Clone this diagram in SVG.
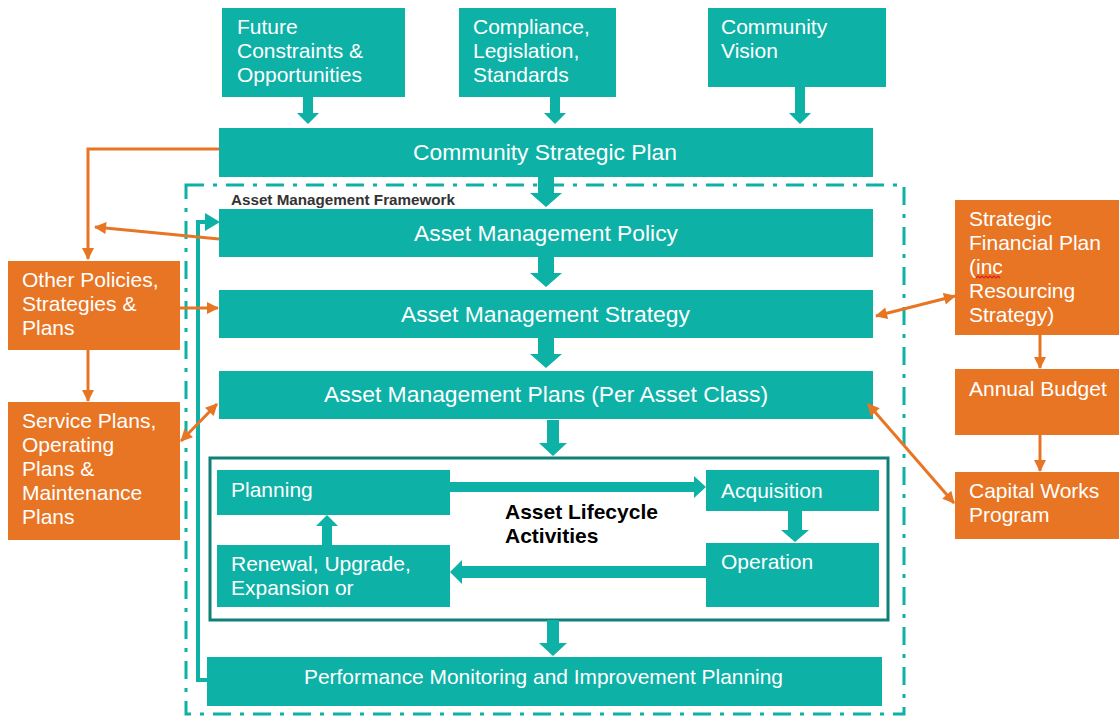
<svg xmlns="http://www.w3.org/2000/svg" width="1119" height="717" viewBox="0 0 1119 717">
<defs>
<style>
.t{fill:#0db1a6}
.o{fill:#e87524}
.w{fill:#fff;font-family:"Liberation Sans",Arial,sans-serif;font-size:21px}
.c{text-anchor:middle}
.h{font-size:22px}
.ol{stroke:#e87524;stroke-width:3;fill:none}
.tl{stroke:#0db1a6;stroke-width:4;fill:none}
</style>
<marker id="ah" viewBox="0 0 12 12" refX="11" refY="6" markerWidth="13" markerHeight="12" markerUnits="userSpaceOnUse" orient="auto-start-reverse">
<path d="M0,0 L12,6 L0,12 z" fill="#e87524"/>
</marker>
</defs>
<rect width="1119" height="717" fill="#fff"/>

<!-- framework border -->
<rect x="186" y="185" width="718" height="529" fill="none" stroke="#0db1a6" stroke-width="3" stroke-dasharray="18 9 4 9"/>
<text x="231" y="205" font-family="Liberation Sans,Arial,sans-serif" font-size="14.5" font-weight="bold" fill="#333" textLength="224" lengthAdjust="spacingAndGlyphs">Asset Management  Framework</text>

<g id="future"><rect class="t" x="222" y="8" width="183" height="89"/><text class="w" x="237" y="34">Future</text><text class="w" x="237" y="58">Constraints &amp;</text><text class="w" x="237" y="82">Opportunities</text></g>
<g id="compliance"><rect class="t" x="459" y="8" width="157" height="89"/><text class="w" x="473" y="34">Compliance,</text><text class="w" x="473" y="58">Legislation,</text><text class="w" x="473" y="82">Standards</text></g>
<g id="vision"><rect class="t" x="708" y="8" width="178" height="79"/><text class="w" x="721" y="34">Community</text><text class="w" x="721" y="58">Vision</text></g>
<g id="csp"><rect class="t" x="219" y="128" width="654" height="49"/><text class="w h" x="413" y="160" textLength="264" lengthAdjust="spacingAndGlyphs">Community Strategic Plan</text></g>
<g id="policy"><rect class="t" x="219" y="209" width="654" height="48"/><text class="w h" x="414" y="241" textLength="264" lengthAdjust="spacingAndGlyphs">Asset Management Policy</text></g>
<g id="strategy"><rect class="t" x="219" y="290" width="654" height="48"/><text class="w h" x="401" y="322" textLength="289" lengthAdjust="spacingAndGlyphs">Asset Management Strategy</text></g>
<g id="amplans"><rect class="t" x="219" y="371" width="654" height="48"/><text class="w h" x="324" y="402" textLength="444" lengthAdjust="spacingAndGlyphs">Asset Management Plans (Per Asset Class)</text></g>

<g id="lifecycle"><rect x="210" y="458" width="678" height="162" fill="none" stroke="#0f8078" stroke-width="3"/>
<text x="505" y="519" font-family="Liberation Sans,Arial,sans-serif" font-size="21" font-weight="bold" fill="#000">Asset Lifecycle</text>
<text x="505" y="543" font-family="Liberation Sans,Arial,sans-serif" font-size="21" font-weight="bold" fill="#000">Activities</text></g>
<g id="planning"><rect class="t" x="217" y="470" width="233" height="45"/><text class="w" x="231" y="497">Planning</text></g>
<g id="acquisition"><rect class="t" x="706" y="470" width="173" height="41"/><text class="w" x="721" y="498">Acquisition</text></g>
<g id="operation"><rect class="t" x="706" y="543" width="173" height="64"/><text class="w" x="721" y="569">Operation</text></g>
<g id="renewal"><rect class="t" x="217" y="545" width="233" height="62"/><text class="w" x="231" y="571">Renewal, Upgrade,</text><text class="w" x="231" y="595">Expansion or</text></g>
<g id="performance"><rect class="t" x="207" y="657" width="675" height="49"/><text class="w" x="304" y="684" textLength="479" lengthAdjust="spacingAndGlyphs">Performance Monitoring and Improvement Planning</text></g>

<g id="other"><rect class="o" x="8" y="261" width="172" height="89"/><text class="w" x="22" y="287">Other Policies,</text><text class="w" x="22" y="311">Strategies &amp;</text><text class="w" x="22" y="335">Plans</text></g>
<g id="service"><rect class="o" x="8" y="402" width="172" height="138"/><text class="w" x="22" y="428">Service Plans,</text><text class="w" x="22" y="452">Operating</text><text class="w" x="22" y="476">Plans &amp;</text><text class="w" x="22" y="500">Maintenance</text><text class="w" x="22" y="524">Plans</text></g>
<g id="sfp"><rect class="o" x="955" y="200" width="164" height="135"/><text class="w" x="969" y="226">Strategic</text><text class="w" x="969" y="250">Financial Plan</text><text class="w" x="969" y="274">(inc</text><text class="w" x="969" y="298">Resourcing</text><text class="w" x="969" y="322">Strategy)</text>
<path d="M976,278 l2,-2 l2,2 l2,-2 l2,2 l2,-2 l2,2 l2,-2 l2,2 l2,-2 l2,2 l2,-2 l2,2" fill="none" stroke="#e02020" stroke-width="1.2"/></g>
<g id="budget"><rect class="o" x="955" y="369" width="164" height="66"/><text class="w" x="969" y="396">Annual Budget</text></g>
<g id="cwp"><rect class="o" x="955" y="472" width="164" height="67"/><text class="w" x="969" y="498">Capital Works</text><text class="w" x="969" y="522">Program</text></g>

<g id="connectors">
<!-- teal block arrows -->
<polygon class="t" points="303,97 313,97 313,113 319,113 308,124 297,113 303,113"/>
<polygon class="t" points="550,97 560,97 560,113 566,113 555,124 544,113 550,113"/>
<polygon class="t" points="795,87 805,87 805,113 811,113 800,124 789,113 795,113"/>
<polygon class="t" points="538,177 554,177 554,193 562,193 546,207 530,193 538,193"/>
<polygon class="t" points="538,257 554,257 554,273 562,273 546,287 530,273 538,273"/>
<polygon class="t" points="538,338 554,338 554,354 562,354 546,368 530,354 538,354"/>
<polygon class="t" points="547,420 559,420 559,443 567,443 553,456 539,443 547,443"/>
<polygon class="t" points="547,620 559,620 559,643 567,643 553,656 539,643 547,643"/>
<polygon class="t" points="450,482 694,482 694,476 706,487 694,498 694,492 450,492"/>
<polygon class="t" points="706,566 462,566 462,560 450,572 462,584 462,578 706,578"/>
<polygon class="t" points="788,511 802,511 802,530 809,530 795,542 781,530 788,530"/>
<polygon class="t" points="322,545 332,545 332,526 338,526 327,515 316,526 322,526"/>
<polyline class="tl" points="209,680 198,680 198,222 206,222"/>
<polygon class="t" points="205,213 220,222 205,231"/>
<!-- orange connectors -->
<polyline class="ol" points="219,149 88,149 88,259" marker-end="url(#ah)"/>
<line class="ol" x1="219" y1="239" x2="95" y2="227" marker-end="url(#ah)"/>
<line class="ol" x1="180" y1="308" x2="218" y2="308" marker-end="url(#ah)"/>
<line class="ol" x1="88" y1="350" x2="88" y2="401" marker-end="url(#ah)"/>
<line class="ol" x1="181" y1="441" x2="217" y2="404" marker-start="url(#ah)" marker-end="url(#ah)"/>
<line class="ol" x1="876" y1="316" x2="955" y2="296" marker-start="url(#ah)" marker-end="url(#ah)"/>
<line class="ol" x1="1040" y1="335" x2="1040" y2="368" marker-end="url(#ah)"/>
<line class="ol" x1="1040" y1="435" x2="1040" y2="471" marker-end="url(#ah)"/>
<line class="ol" x1="868" y1="404" x2="954" y2="503" marker-start="url(#ah)" marker-end="url(#ah)"/>
</g>
</svg>
